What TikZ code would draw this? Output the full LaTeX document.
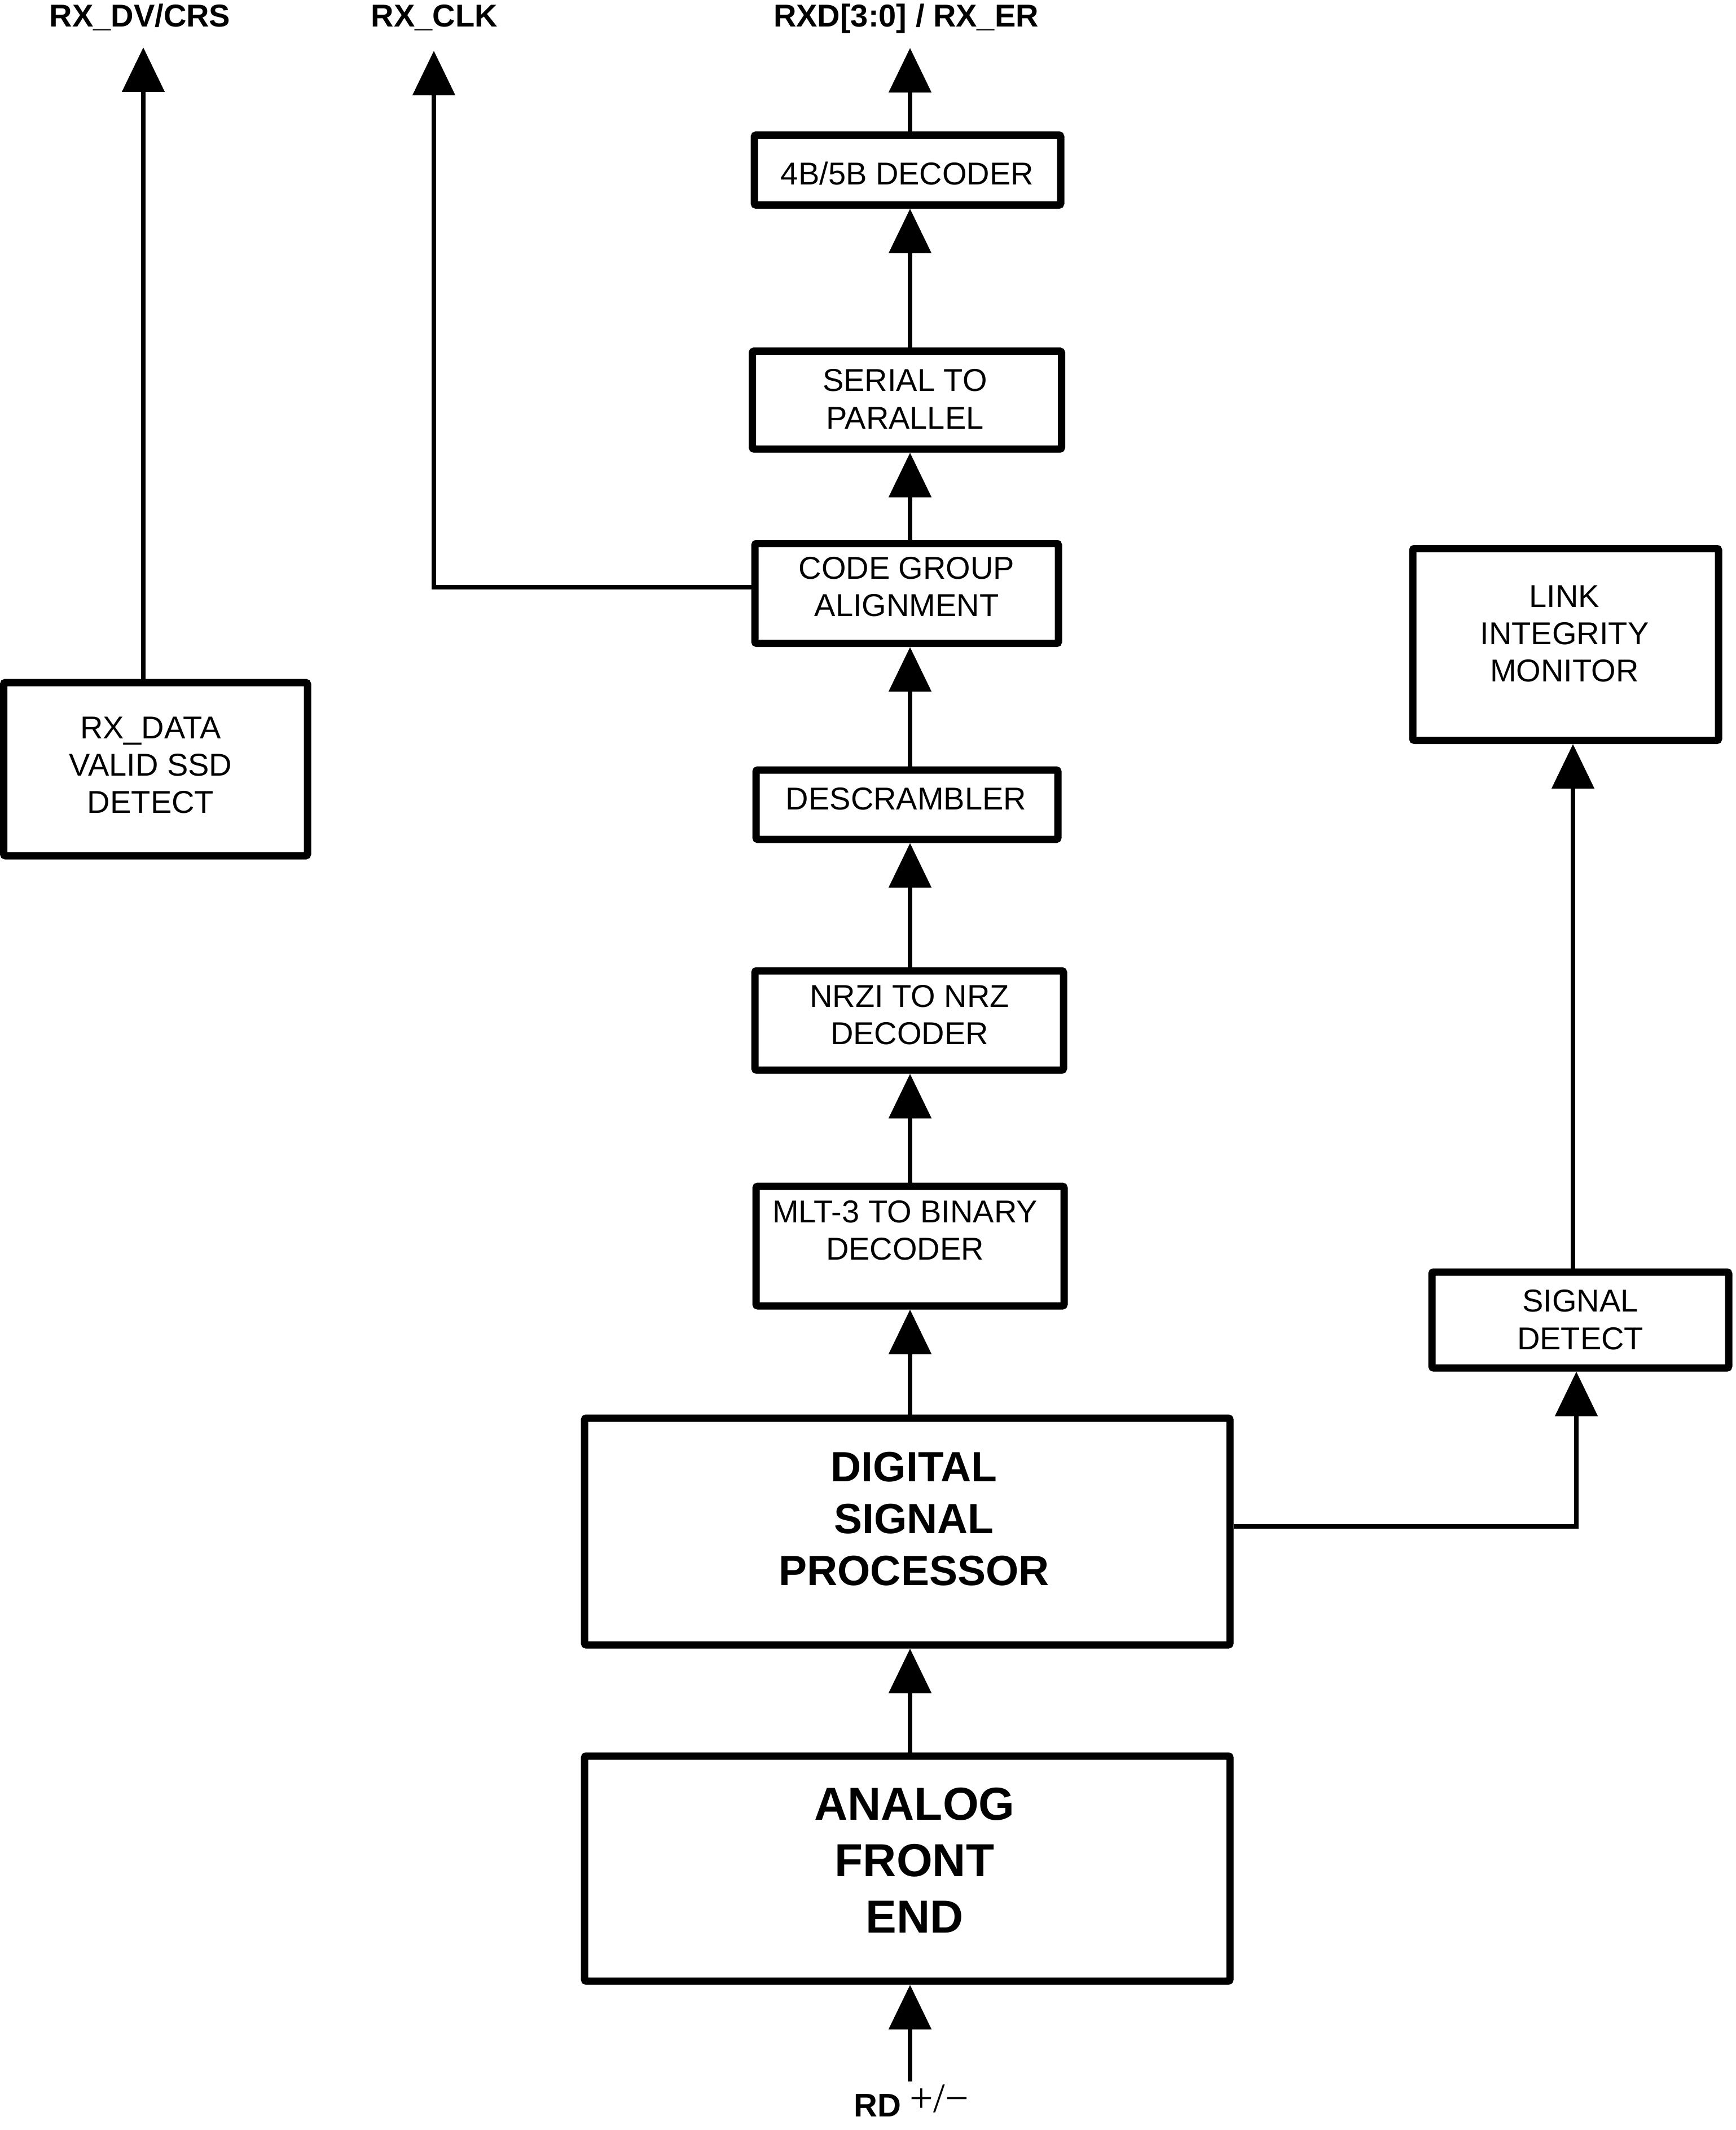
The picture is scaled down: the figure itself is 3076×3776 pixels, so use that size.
\documentclass[tikz,border=0pt]{standalone}
\usepackage{fontspec}
\setmainfont{Liberation Sans}
\newfontfamily\serifrm{Liberation Serif}
\usetikzlibrary{arrows.meta,fit}
\begin{document}
\begin{tikzpicture}[x=0.25pt,y=-0.25pt,
  box/.style={draw, line width=3.25pt, inner sep=0pt, rounded corners=0.8pt, fit={#1}},
  txt/.style={inner sep=0pt, align=center, font=\fontsize{14pt}{16.6pt}\selectfont},
  dspfont/.style={inner sep=0pt, align=center, font=\bfseries\fontsize{18.75pt}{23pt}\selectfont},
  afefont/.style={inner sep=0pt, align=center, font=\bfseries\fontsize{20.5pt}{25pt}\selectfont},
  toplbl/.style={inner sep=0pt, anchor=base, font=\bfseries\fontsize{14pt}{16pt}\selectfont},
  arr/.style={line width=2.1pt, -{Triangle[length=19.75pt,width=18.5pt]}},
  conn/.style={line width=2.1pt}
]
\useasboundingbox (0,0) rectangle (3076,3776);

% boxes
\node[box={(1337,239.5) (1880,363.5)}] (b4) {};
\node[box={(1333.5,622.5) (1881.5,796)}] (s2p) {};
\node[box={(1338,963.5) (1876,1140.5)}] (cga) {};
\node[box={(1340,1365) (1875,1488)}] (desc) {};
\node[box={(1338,1721) (1885,1897)}] (nrzi) {};
\node[box={(1340,2103) (1886,2315)}] (mlt) {};
\node[box={(1036,2514) (2180,2916)}] (dsp) {};
\node[box={(1036,3113) (2180,3512)}] (afe) {};
\node[box={(6.5,1210) (545,1517)}] (rxd) {};
\node[box={(2504,972.5) (3046,1312.5)}] (lim) {};
\node[box={(2538,2255) (3064,2425)}] (sd) {};

% box texts
\node[txt, anchor=base] (t4b) at (1608,328) {4B/5B DECODER};
\node[txt] (ts2p) at (1604,707.5) {SERIAL TO\\PARALLEL};
\node[txt] (tcga) at (1607,1040) {CODE GROUP\\ALIGNMENT};
\node[txt, anchor=base] (tdesc) at (1606,1435) {DESCRAMBLER};
\node[txt] (tnrzi) at (1612,1799) {NRZI TO NRZ\\DECODER};
\node[txt] (tmlt) at (1604,2181) {MLT-3 TO BINARY\\DECODER};
\node[dspfont] (tdsp) at (1620,2692.5) {DIGITAL\\SIGNAL\\PROCESSOR};
\node[afefont] (tafe) at (1621,3298) {ANALOG\\FRONT\\END};
\node[txt] (trxd) at (267,1356.5) {RX\_DATA\\VALID SSD\\DETECT};
\node[txt] (tlim) at (2773,1123.5) {LINK\\INTEGRITY\\MONITOR};
\node[txt] (tsd) at (2801,2339.5) {SIGNAL\\DETECT};

% top labels
\node[toplbl] (ldv) at (248,48) {RX\_DV/CRS};
\node[toplbl] (lclk) at (770,48) {RX\_CLK};
\node[toplbl] (lrxd) at (1606,48) {RXD[3:0] / RX\_ER};

% bottom label
\node[anchor=base west, inner sep=0pt, font=\bfseries\fontsize{14.5pt}{17pt}\selectfont] (rd) at (1513,3752)
  {RD\hspace{3.8pt}\raisebox{2pt}{\serifrm\mdseries\fontsize{18.5pt}{20pt}\selectfont +/−}};

% helper coordinates
\coordinate (cx) at (1613,0);
\coordinate (rxdtop) at (1613,85);
\coordinate (clkbend) at (769,1041);
\coordinate (clktop) at (769,90);
\coordinate (dvtop) at (254,84);
\coordinate (sdbend) at (2794,2706);
\coordinate (limx) at (2788,0);
\coordinate (rdin) at (1613,3690);

% main chain
\draw[arr] (rdin) -- (afe.south -| rdin);
\draw[arr] (afe.north -| cx) -- (dsp.south -| cx);
\draw[arr] (dsp.north -| cx) -- (mlt.south -| cx);
\draw[arr] (mlt.north -| cx) -- (nrzi.south -| cx);
\draw[arr] (nrzi.north -| cx) -- (desc.south -| cx);
\draw[arr] (desc.north -| cx) -- (cga.south -| cx);
\draw[arr] (cga.north -| cx) -- (s2p.south -| cx);
\draw[arr] (s2p.north -| cx) -- (b4.south -| cx);
\draw[arr] (b4.north -| cx) -- (rxdtop);

% side outputs
\draw[arr] (cga.west |- clkbend) -- (clkbend) -- (clktop);
\draw[arr] (rxd.north -| dvtop) -- (dvtop);
\draw[arr] (dsp.east |- sdbend) -- (sdbend) -- (sd.south -| sdbend);
\draw[arr] (sd.north -| limx) -- (lim.south -| limx);
\end{tikzpicture}
\end{document}
